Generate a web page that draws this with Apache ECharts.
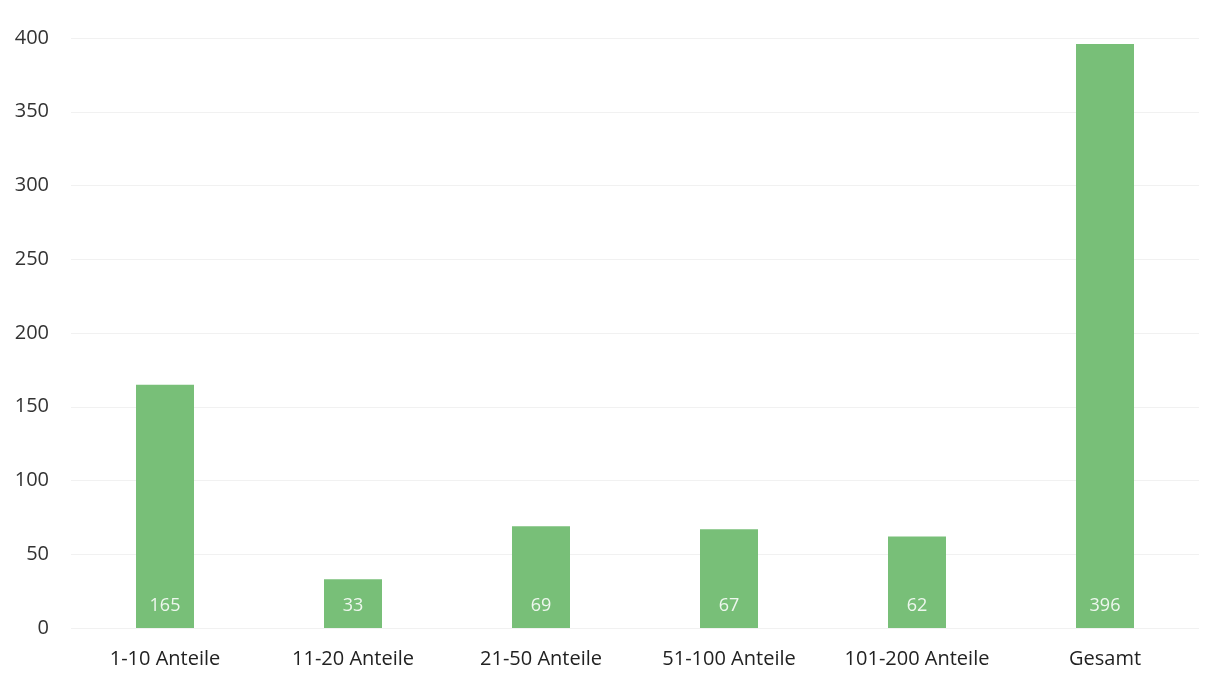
<!DOCTYPE html>
<html>
<head>
<meta charset="utf-8">
<script src="https://cdn.jsdelivr.net/npm/echarts@6/dist/echarts.min.js"></script>
<style>
  html, body { margin: 0; padding: 0; background: #fff; }
  #barChart { width: 1214px; height: 685px; }
</style>
</head>
<body>
<div id="barChart"></div>
<script>
// Daten
var categories = ['1-10 Anteile', '11-20 Anteile', '21-50 Anteile', '51-100 Anteile', '101-200 Anteile', 'Gesamt']
var values = [165, 33, 69, 67, 62, 396]

var myChart = echarts.init(document.getElementById('barChart'))

var option = {
  animation: false,
  textStyle: { fontFamily: 'Open Sans' },
  grid: {
    left: 71,
    right: 15,
    top: 38,
    bottom: 57
  },
  xAxis: {
    type: 'category',
    data: categories,
    axisLine: { show: false },
    axisTick: { show: false },
    axisLabel: {
      interval: 0,
      color: '#222',
      fontSize: 20,
      margin: 21
    }
  },
  yAxis: {
    type: 'value',
    min: 0,
    max: 400,
    interval: 50,
    axisLine: { show: false },
    axisTick: { show: false },
    axisLabel: {
      color: '#333',
      fontSize: 20,
      margin: 22
    },
    splitLine: {
      lineStyle: { color: '#f1f1f1', width: 1 }
    }
  },
  series: [
    {
      type: 'bar',
      data: values,
      barWidth: 58,
      itemStyle: { color: '#78bf78' },
      label: {
        show: true,
        position: 'insideBottom',
        distance: 13,
        color: '#eef7ee',
        fontSize: 18
      }
    }
  ]
}

myChart.setOption(option)
</script>
</body>
</html>
